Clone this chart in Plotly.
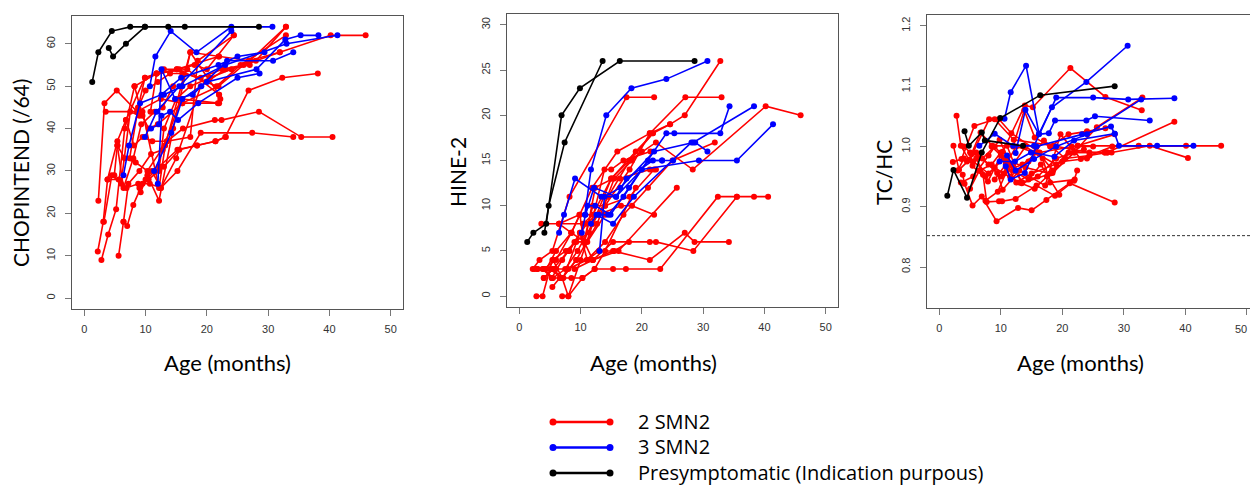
import plotly.graph_objects as go

W, H = 1250, 487
RED, BLUE, BLACK = "#FF0000", "#0000FF", "#000000"

# ---------------- CHOP INTEND data ----------------
chop_black_age = [[1.3, 2.3, 4.5, 7.5, 9.9, 13.7, 16.4, 28.5],
                  [4.0, 4.7, 6.8, 9.9]]
chop_black_val = [[51, 58, 63, 64, 64, 64, 64, 64],
                  [59, 57, 60, 64]]

chop_blue_age = [[10.7, 11.6, 14.1, 18.3, 24.0, 30.7],
                 [6.4, 7.3, 9.1, 12.6, 15.8, 21.9, 25.0, 29.4],
                 [10.9, 12.2, 12.6, 14.8, 17.7, 19.1, 23.3, 30.8, 34.1],
                 [12.0, 12.6, 14.0, 15.3, 18.6, 25.0, 28.6],
                 [11.4, 14.2, 16.0, 20.0, 28.1, 32.8, 35.3, 38.2],
                 [13.0, 16.0, 23.0, 33.0, 41.3],
                 [9.9, 11.8, 15.5, 24.0]]
chop_blue_val = [[50, 57, 63, 58, 64, 64],
                 [29, 36, 46, 48, 52, 55, 57, 58],
                 [40, 41, 54, 47, 48, 50, 56, 56, 58],
                 [27, 43, 44, 42, 46, 52, 53],
                 [30, 39, 47, 51, 54, 61, 62, 62],
                 [48, 50, 55, 60, 62],
                 [38, 44, 50, 63]]

chop_red_age = [[2.3, 3.3, 5.3, 8.6, 12.5, 16.0, 22.0],
                [2.2, 3.1, 3.8, 5.4, 6.8, 9.9, 15.1, 21.9],
                [2.8, 3.9, 5.2, 6.6, 8.2, 11.8, 16.8, 22.0],
                [3.5, 9.5, 12.2, 13.2, 17.3, 22.0, 22.2],
                [5.6, 6.4, 7.0, 8.0, 9.5, 12.2, 15.2, 18.4, 21.4, 23.0, 26.8, 32.3, 38.1],
                [4.9, 5.4, 6.6, 8.4, 10.3, 13.5, 16.1, 21.3, 22.4, 28.5, 35.4, 40.5],
                [3.8, 5.6, 6.9, 8.8, 10.7, 12.5, 15.2, 19.0, 27.4, 34.1],
                [6.8, 8.1, 9.5, 11.1, 13.5, 17.3, 18.5, 24.4],
                [7.4, 8.8, 9.9, 11.8, 15.1, 21.6, 25.5, 32.9],
                [8.2, 9.5, 10.5, 12.0, 16.0, 21.9, 26.8, 31.9, 40.2, 45.9],
                [9.2, 10.3, 12.2, 14.5, 17.3, 22.0, 27.0, 32.9],
                [6.4, 7.2, 9.0, 10.9, 12.8, 15.8, 21.8],
                [10.0, 11.0, 12.5, 15.0, 19.0, 23.0, 27.0],
                [9.0, 10.5, 13.0, 15.5, 18.4, 21.4, 23.1],
                [5.4, 6.4, 8.0, 9.3, 11.5, 12.8, 14.5],
                [8.8, 10.0, 12.0, 14.0, 16.0, 19.0, 22.5, 26.0, 31.9],
                [10.8, 11.8, 13.0, 15.5, 18.0, 20.0, 24.4],
                [12.2, 13.0, 15.0, 17.3, 20.5, 24.0, 28.0, 32.9],
                [3.2, 4.5, 6.0, 7.5, 9.0]]
chop_red_val = [[23, 46, 49, 44, 47, 46, 46],
                [11, 18, 28, 37, 42, 52, 54, 57],
                [9, 15, 21, 40, 50, 53, 54, 48],
                [44, 44, 26, 36, 58, 48, 47],
                [10, 18, 17, 22, 27, 31, 35, 36, 37, 38, 49, 52, 53],
                [29, 36, 33, 32, 30, 37, 40, 42, 42, 44, 38, 38],
                [28, 28, 26, 27, 27, 26, 30, 39, 39, 38],
                [42, 36, 38, 37, 37, 38, 56, 62],
                [33, 45, 52, 53, 54, 50, 55, 62],
                [50, 43, 40, 41, 46, 50, 56, 58, 62, 62],
                [25, 29, 23, 40, 58, 57, 56, 64],
                [18, 27, 30, 34, 35, 47, 46],
                [28, 30, 26, 33, 50, 54, 55],
                [26, 28, 31, 35, 36, 37, 38],
                [36, 26, 33, 41, 44, 45, 50],
                [45, 49, 51, 53, 53, 52, 54, 55, 58],
                [44, 53, 54, 54, 55, 54, 62],
                [30, 40, 47, 50, 52, 54, 56, 64],
                [18, 29, 27, 44, 43]]

# ---------------- HINE-2 data ----------------
hine_black_age = [[1.3, 2.3, 4.4, 6.9, 9.9, 16.4, 28.6],
                  [4.1, 4.8, 7.4, 13.6]]
hine_black_val = [[6, 7, 8, 20, 23, 26, 26],
                  [7, 10, 17, 26]]

hine_blue_age = [[10.7, 11.7, 14.2, 18.3, 24.0, 30.7],
                 [6.5, 7.3, 9.1, 13.4, 15.8, 17.5, 21.8, 23.3, 25.1],
                 [10.2, 11.1, 12.4, 14.9, 17.9, 24.0, 25.3, 32.8, 34.3],
                 [11.7, 12.6, 15.3, 18.7, 28.1, 28.7, 30.7],
                 [10.8, 12.2, 15.8, 20.0, 29.3, 35.5, 41.4],
                 [13.1, 13.9, 16.5, 22.0, 28.4, 38.3],
                 [13.0, 14.5, 17.0, 21.0, 23.3]]
hine_blue_val = [[9, 14, 20, 23, 24, 26],
                 [7, 9, 13, 11, 11, 13, 15, 15, 15],
                 [7, 10, 10, 9, 12, 18, 18, 18, 21],
                 [8, 9, 8, 11, 17, 17, 16],
                 [9, 12, 11, 14, 15, 15, 19],
                 [5, 11, 12, 16, 17, 21],
                 [9, 9, 11, 15, 15]]

hine_red_age = [[2.2, 3.3, 5.4, 8.2, 17.5, 22.0],
                [3.6, 6.5, 10.4, 12.0, 15.0, 19.0, 21.8, 24.6, 27.0, 32.8],
                [2.9, 3.8, 5.3, 7.2, 9.9, 12.0, 15.3, 21.3, 27.0, 28.6, 34.2],
                [5.4, 6.6, 8.5, 10.3, 12.3, 15.3, 17.4, 23.0, 32.4, 35.5, 38.3, 40.6],
                [7.0, 8.0, 10.0, 12.0, 15.0, 18.0, 22.3, 28.3, 40.2, 45.9],
                [4.0, 5.5, 8.0, 11.0, 14.0, 18.0, 21.3, 27.1, 33.0],
                [6.0, 8.0, 11.0, 14.0, 17.0, 21.0, 25.0, 31.9],
                [5.0, 7.0, 9.3, 12.0, 16.2, 25.7],
                [6.5, 9.8, 12.9, 16.6, 18.4, 22.0],
                [9.0, 12.0, 15.3, 21.3, 22.3, 28.4, 35.5],
                [5.3, 7.0, 9.0, 11.4, 13.9, 15.0, 17.0, 21.4],
                [4.4, 6.0, 8.5, 10.7, 12.4, 15.3, 16.4, 21.3, 22.3],
                [3.0, 4.0, 6.0, 8.5, 11.9, 16.0, 21.3, 24.6],
                [2.5, 4.0, 5.5, 7.5, 9.5, 12.0, 14.5, 18.0, 21.8],
                [4.0, 5.5, 7.0, 9.3, 12.7, 15.5, 18.4, 20.0],
                [5.5, 7.0, 8.0, 10.3, 12.3, 14.0, 19.0],
                [8.2, 9.9, 11.1, 13.0, 15.5, 17.9],
                [6.5, 8.5, 9.9, 10.5, 12.0, 14.0, 18.0, 22.0],
                [2.8, 3.8, 5.4, 7.6, 9.3, 11.1, 14.0]]
hine_red_val = [[3, 4, 5, 11, 22, 22],
                [8, 8, 8, 9, 13, 16, 18, 19, 20, 26],
                [3, 3, 2, 2, 7, 4, 5, 4, 7, 6, 6],
                [1, 2, 2, 2, 3, 3, 3, 3, 11, 11, 11, 11],
                [0, 0, 4, 8, 13, 15, 17, 14, 21, 20],
                [2, 3, 5, 8, 10, 14, 18, 22, 22],
                [3, 3, 4, 6, 9, 12, 15, 17],
                [3, 2, 4, 4, 5, 12],
                [8, 9, 9, 10, 10, 9],
                [3, 4, 6, 6, 6, 5, 11],
                [2, 4, 6, 7, 14, 14, 15, 16],
                [3, 5, 7, 6, 12, 13, 13, 14, 14],
                [3, 3, 4, 7, 12, 16, 18, 19],
                [3, 3, 2, 3, 5, 8, 11, 15, 18],
                [2, 3, 2, 4, 8, 13, 15, 16],
                [4, 2, 0, 2, 3, 5, 12],
                [5, 7, 4, 5, 5, 6],
                [8, 7, 9, 6, 10, 10, 11, 14],
                [0, 0, 4, 5, 6, 6, 9]]

# ---------------- TC/HC data ----------------
tc_black_age = [[1.3, 2.3, 4.5, 6.9, 9.9, 16.4, 28.5],
                [4.1, 4.8, 6.9, 7.4, 13.6]]
tc_black_val = [[0.918, 0.961, 0.915, 0.990, 1.047, 1.085, 1.100],
                [1.025, 1.001, 1.023, 1.010, 1.001]]

tc_blue_age = [[10.6, 11.6, 14.1, 16.2, 18.3, 23.9, 30.6],
               [6.5, 9.0, 12.0, 15.4, 19.0, 25.0, 30.7, 38.2],
               [12.4, 14.0, 16.2, 17.8, 18.8, 23.9, 25.3, 34.2],
               [10.8, 11.6, 13.9, 15.8, 23.2, 27.9, 28.5],
               [9.8, 12.3, 14.9, 18.7, 21.9, 28.5, 29.2, 35.4, 41.3],
               [11.0, 12.4, 15.4, 19.0, 24.0, 32.8]]
tc_blue_val = [[1.046, 1.090, 1.134, 1.021, 1.065, 1.107, 1.167],
               [1.001, 1.021, 1.001, 1.001, 1.081, 1.081, 1.078, 1.080],
               [0.989, 1.061, 1.020, 1.022, 1.043, 1.043, 1.050, 1.043],
               [0.967, 0.945, 0.956, 1.000, 1.020, 1.033, 1.021],
               [0.975, 0.975, 0.990, 0.983, 1.010, 1.021, 1.001, 1.001, 1.001],
               [0.985, 0.960, 0.979, 1.000, 1.020, 1.078]]

tc_red_age = [[2.8, 3.5, 5.4, 7.9, 10.3, 13.9, 15.2, 21.3, 27.0, 32.9],
              [2.3, 3.2, 4.9, 8.1, 9.7, 11.7, 16.3, 22.5, 32.4, 45.8],
              [2.2, 3.6, 5.7, 9.0, 12.1, 18.5, 24.4, 27.3, 38.2],
              [3.8, 4.1, 5.4, 6.9, 9.3, 12.8, 15.0, 17.4, 21.2, 28.5],
              [5.2, 6.7, 8.6, 11.0, 13.4, 18.4, 21.9, 25.6, 33.0],
              [7.1, 7.7, 9.7, 10.2, 12.4, 15.8, 18.8, 21.9, 22.4],
              [4.5, 6.0, 9.4, 10.3, 13.0, 17.2, 19.7, 23.0, 28.1, 40.1],
              [3.0, 4.0, 5.5, 8.0, 10.5, 14.0, 18.0, 22.0, 28.0, 34.2, 40.4],
              [4.0, 5.0, 7.0, 9.0, 11.5, 13.5, 16.0, 19.0, 23.5],
              [5.0, 6.5, 8.5, 10.0, 12.5, 15.0, 20.0, 24.0],
              [6.0, 7.5, 9.0, 10.5, 13.0, 15.5, 17.5, 21.0, 26.9],
              [3.5, 5.5, 8.0, 9.8, 12.0, 14.5, 16.5, 19.5],
              [6.5, 8.0, 10.0, 12.0, 14.0, 16.8, 18.0, 22.0],
              [7.5, 9.5, 11.0, 13.5, 16.0, 18.5, 21.5, 25.0],
              [8.5, 10.0, 11.5, 14.5, 17.0, 20.5, 24.4, 26.9, 27.3],
              [9.0, 10.8, 12.5, 15.5, 19.0, 22.5, 28.5],
              [12.0, 13.8, 15.5, 18.0, 21.0, 24.0, 27.0]]
tc_red_val = [[1.051, 1.001, 0.968, 0.942, 0.991, 1.068, 1.065, 1.130, 1.082, 1.060],
              [1.001, 0.961, 0.978, 1.045, 1.045, 1.022, 0.990, 1.001, 1.001, 1.001],
              [0.974, 0.979, 1.034, 1.045, 1.011, 1.001, 0.990, 0.990, 1.041],
              [0.953, 0.938, 0.902, 0.917, 0.876, 0.898, 0.894, 0.911, 0.939, 0.907],
              [0.987, 1.023, 1.001, 1.001, 0.939, 0.956, 0.990, 1.032, 1.081],
              [0.953, 0.908, 0.909, 0.909, 0.913, 0.935, 0.918, 0.943, 0.960],
              [0.975, 0.990, 0.956, 0.928, 0.960, 0.935, 1.020, 0.979, 1.000, 1.001],
              [0.960, 0.980, 0.975, 0.955, 0.980, 0.965, 0.955, 0.990, 0.990, 1.001, 0.981],
              [1.000, 0.990, 0.980, 1.000, 0.970, 0.940, 0.950, 0.980, 0.995],
              [0.930, 0.960, 0.970, 0.990, 0.940, 0.955, 0.975, 0.980],
              [0.980, 0.950, 0.965, 0.955, 0.940, 0.930, 0.950, 0.990, 0.990],
              [0.940, 0.950, 0.985, 1.011, 0.960, 0.945, 0.970, 0.920],
              [0.985, 0.970, 0.950, 0.970, 1.000, 0.980, 0.940, 0.945],
              [0.910, 0.925, 0.960, 0.970, 0.990, 0.960, 1.000, 1.000],
              [1.000, 0.985, 0.950, 0.975, 1.010, 0.980, 0.985, 0.990, 0.990],
              [0.945, 0.970, 1.000, 0.990, 0.970, 1.001, 1.020],
              [1.000, 1.060, 1.015, 1.000, 1.020, 1.025, 1.030]]

tc_threshold = 0.852

x_ticks = [0, 10, 20, 30, 40, 50]
chop_ticks = [0, 10, 20, 30, 40, 50, 60]
hine_ticks = [0, 5, 10, 15, 20, 25, 30]
tc_ticks = [0.8, 0.9, 1.0, 1.1, 1.2]

legend_labels = ["2 SMN2", "3 SMN2", "Presymptomatic (Indication purpous)"]
legend_colors = [RED, BLUE, BLACK]

x_title = "Age (months)"
y_titles = ["CHOPINTEND (/64)", "HINE-2", "TC/HC"]

# ---------------- figure ----------------
fig = go.Figure()

def add_group(ages, vals, color, ax):
    for a, v in zip(ages, vals):
        fig.add_trace(go.Scatter(
            x=a, y=v, mode="lines+markers", showlegend=False,
            line=dict(color=color, width=1.6),
            marker=dict(color=color, size=6),
            xaxis="x" + ax, yaxis="y" + ax, hoverinfo="skip"))

panels = [
    ("", chop_red_age, chop_red_val, chop_blue_age, chop_blue_val, chop_black_age, chop_black_val),
    ("2", hine_red_age, hine_red_val, hine_blue_age, hine_blue_val, hine_black_age, hine_black_val),
    ("3", tc_red_age, tc_red_val, tc_blue_age, tc_blue_val, tc_black_age, tc_black_val),
]
for ax, ra, rv, ba, bv, ka, kv in panels:
    add_group(ra, rv, RED, ax)
    add_group(ba, bv, BLUE, ax)
    add_group(ka, kv, BLACK, ax)

def px_x(p):
    return p / W

def px_y(p):
    return 1 - p / H

tickfont = dict(family="Liberation Sans, Arial, sans-serif", size=11, color="#333333")
common_x = dict(showline=True, linecolor="#555555", linewidth=1, mirror=True,
                ticks="outside", ticklen=6, tickcolor="#777777", tickwidth=1,
                showgrid=False, zeroline=False, tickfont=tickfont, tickvals=x_ticks,
                ticklabelstandoff=4, fixedrange=True)
common_y = dict(showline=True, linecolor="#555555", linewidth=1,
                ticks="outside", ticklen=6, tickcolor="#777777", tickwidth=1,
                showgrid=False, zeroline=False, tickfont=tickfont, tickangle=-90,
                ticklabelstandoff=6, fixedrange=True)

fig.update_layout(
    width=W, height=H, margin=dict(l=0, r=0, t=0, b=0),
    paper_bgcolor="white", plot_bgcolor="white",
    xaxis=dict(common_x, domain=[px_x(72), px_x(403)], range=[-2, 52], anchor="y"),
    yaxis=dict(common_y, domain=[px_y(309), px_y(16)], range=[-2.56, 66.56],
               tickvals=chop_ticks, mirror=True, anchor="x"),
    xaxis2=dict(common_x, domain=[px_x(507), px_x(838)], range=[-2, 52], anchor="y2"),
    yaxis2=dict(common_y, domain=[px_y(307), px_y(14)], range=[-1.2, 31.2],
                tickvals=hine_ticks, mirror=True, anchor="x2"),
    xaxis3=dict(common_x, domain=[px_x(927), 1.0], range=[-2, 50.49], anchor="y3"),
    yaxis3=dict(common_y, domain=[px_y(308), px_y(15)], range=[0.732, 1.218],
                tickvals=tc_ticks, tickformat=".1f", mirror=False, anchor="x3"),
)

# last x tick label of the third panel sits at the page edge
fig.add_annotation(x=1.0, y=px_y(329), xref="paper", yref="paper",
                   text=str(x_ticks[-1]), showarrow=False, font=tickfont,
                   xanchor="right", yanchor="middle", xshift=-1)

# threshold line
fig.add_shape(type="line", xref="x3 domain", yref="y3", x0=0, x1=1,
              y0=tc_threshold, y1=tc_threshold,
              line=dict(color="#333333", width=1, dash="3px,2px"))

title_font = dict(family="Lato, Carlito, sans-serif", size=22, color="black")
# x titles
for cx in [227, 653, 1080]:
    fig.add_annotation(x=px_x(cx), y=px_y(362), xref="paper", yref="paper",
                       text=x_title, showarrow=False, font=title_font,
                       xanchor="center", yanchor="middle")
# y titles
ytitle_font = dict(family="Lato, Carlito, sans-serif", size=21, color="black")
for (cx, cy), t in zip([(20, 173), (457, 172), (883, 173)], y_titles):
    fig.add_annotation(x=px_x(cx), y=px_y(cy), xref="paper", yref="paper",
                       text=t, showarrow=False, font=ytitle_font, textangle=-90,
                       xanchor="center", yanchor="middle")

# legend (drawn manually)
for i, (lab, col) in enumerate(zip(legend_labels, legend_colors)):
    ly = 422 + i * 25.5
    fig.add_shape(type="line", xref="paper", yref="paper",
                  x0=px_x(553), x1=px_x(610), y0=px_y(ly), y1=px_y(ly),
                  line=dict(color=col, width=2.5))
    for ex in (553, 610):
        fig.add_shape(type="circle", xref="paper", yref="paper",
                      xsizemode="pixel", ysizemode="pixel",
                      xanchor=px_x(ex), yanchor=px_y(ly),
                      x0=-3.5, x1=3.5, y0=-3.5, y1=3.5,
                      fillcolor=col, line=dict(color=col, width=0))
    fig.add_annotation(x=px_x(636), y=px_y(ly - 1), xref="paper", yref="paper",
                       text=lab, showarrow=False, xanchor="left", yanchor="middle",
                       font=dict(family="Open Sans, sans-serif", size=20, color="black"))

fig.write_html("out.html", config={"displayModeBar": False},
               post_script="document.body.style.margin='0px';document.body.style.overflow='hidden';")
